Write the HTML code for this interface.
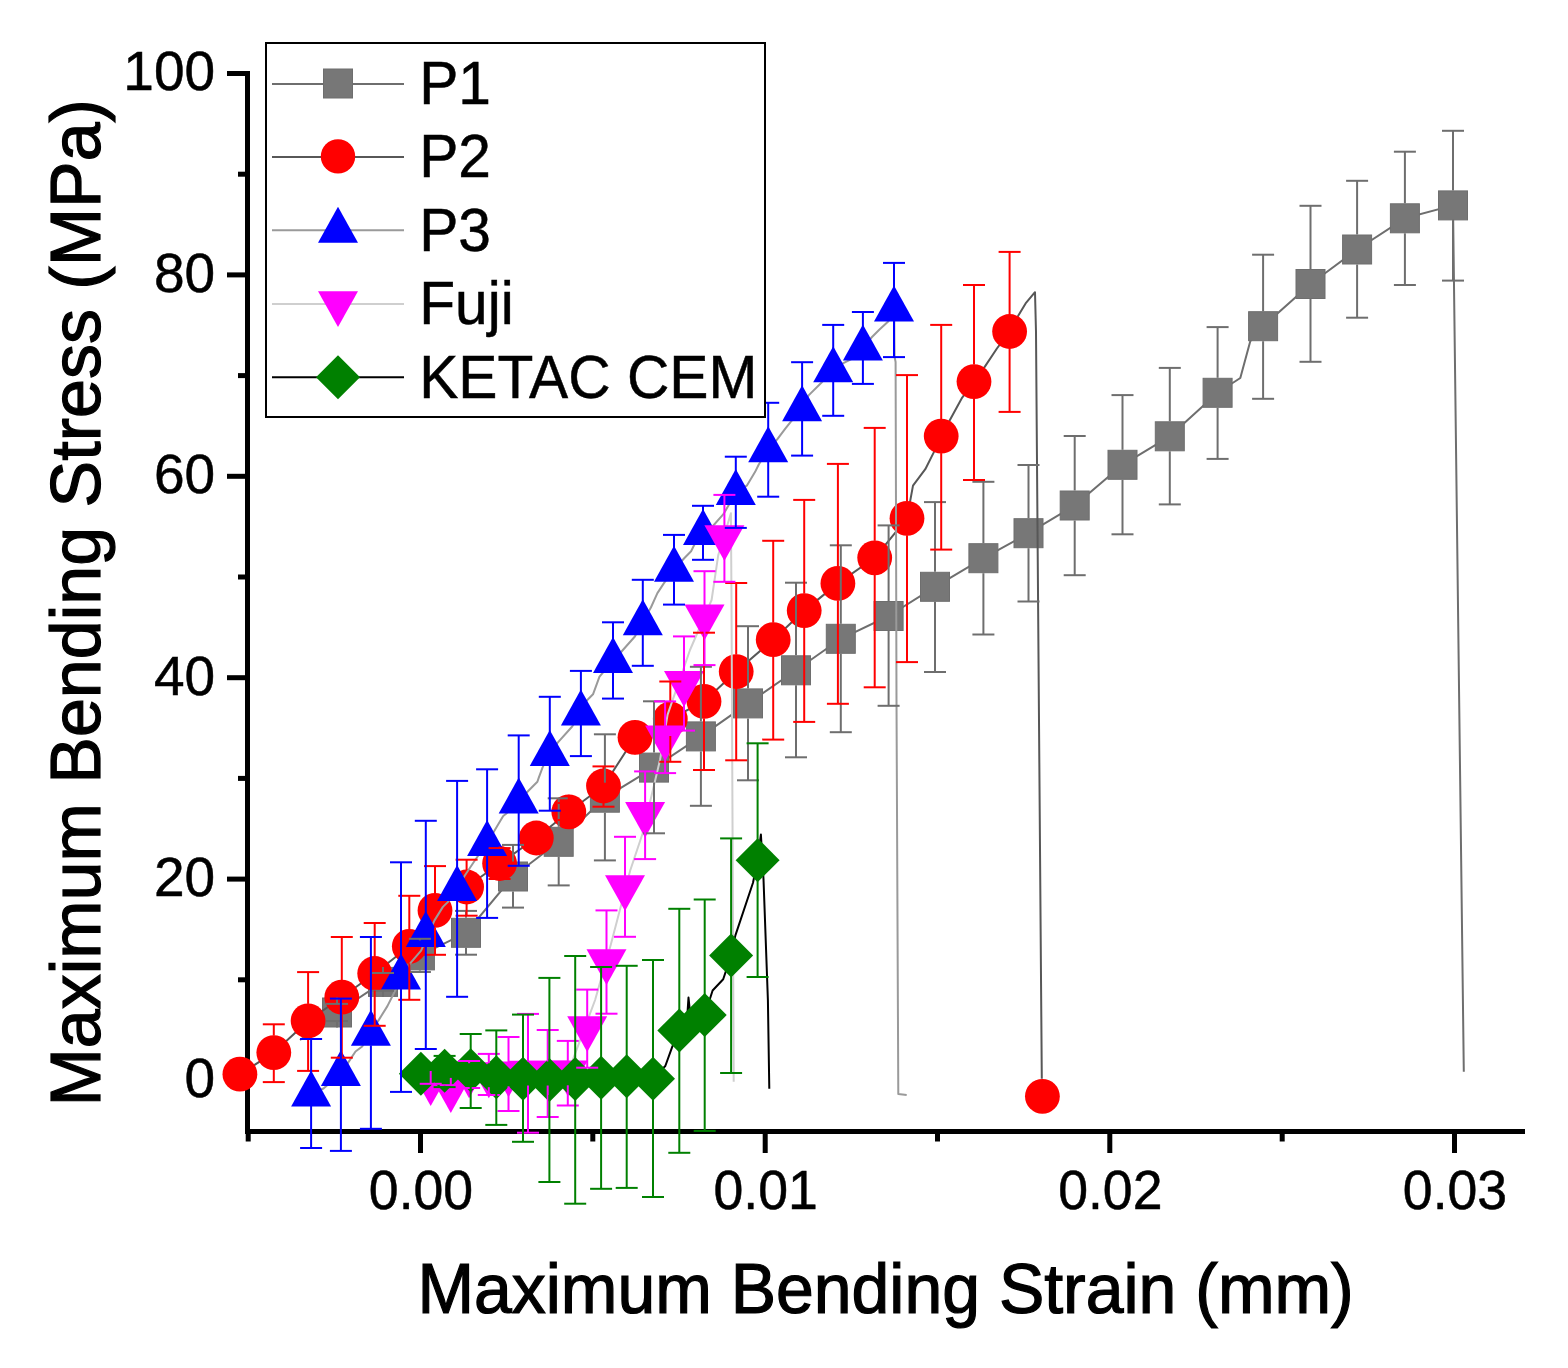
<!DOCTYPE html>
<html><head><meta charset="utf-8"><title>Maximum Bending Stress vs Strain</title>
<style>html,body{margin:0;padding:0;background:#fff;}svg{display:block;}</style>
</head><body>
<svg width="1568" height="1368" viewBox="0 0 1568 1368">
<rect width="1568" height="1368" fill="#ffffff"/>
<g fill="#000000">
<rect x="245" y="71" width="5" height="1063"/>
<rect x="245" y="1129" width="1280" height="5"/>
<rect x="227" y="1078" width="18" height="5"/>
<rect x="227" y="876.6" width="18" height="5"/>
<rect x="227" y="675.2" width="18" height="5"/>
<rect x="227" y="473.8" width="18" height="5"/>
<rect x="227" y="272.4" width="18" height="5"/>
<rect x="227" y="71" width="18" height="5"/>
<rect x="238" y="977.3" width="7" height="5"/>
<rect x="238" y="775.9" width="7" height="5"/>
<rect x="238" y="574.5" width="7" height="5"/>
<rect x="238" y="373.1" width="7" height="5"/>
<rect x="238" y="171.7" width="7" height="5"/>
<rect x="418" y="1134" width="5" height="19"/>
<rect x="762.7" y="1134" width="5" height="19"/>
<rect x="1107.3" y="1134" width="5" height="19"/>
<rect x="1452" y="1134" width="5" height="19"/>
<rect x="245.7" y="1134" width="5" height="7.5"/>
<rect x="590.3" y="1134" width="5" height="7.5"/>
<rect x="935" y="1134" width="5" height="7.5"/>
<rect x="1279.7" y="1134" width="5" height="7.5"/>
</g>
<polyline points="300,1040 337,1012.5 383,981.9 419.9,955.4 466,932.8 513,876.5 558.7,841.8 604.9,797.7 654,767.6 700.9,736.4 748,703.4 796,670.3 840.8,638.8 888.6,616 935,586.8 983.4,558.2 1028.5,533.2 1074.7,505.5 1122.5,464.8 1169.8,436.3 1217.6,392.8 1232.6,383 1240.3,378 1250.2,341.4 1263.1,326.2 1310.5,284 1357.1,249.5 1404.9,218.3 1453,205.4 1463.8,1071.7" fill="none" stroke="#6e6e6e" stroke-width="2" stroke-linejoin="round"/>
<rect x="322.5" y="998" width="29" height="29" fill="#777777" stroke="#6e6e6e" stroke-width="1"/>
<rect x="368.5" y="967.4" width="29" height="29" fill="#777777" stroke="#6e6e6e" stroke-width="1"/>
<rect x="405.4" y="940.9" width="29" height="29" fill="#777777" stroke="#6e6e6e" stroke-width="1"/>
<rect x="451.5" y="918.3" width="29" height="29" fill="#777777" stroke="#6e6e6e" stroke-width="1"/>
<rect x="498.5" y="862" width="29" height="29" fill="#777777" stroke="#6e6e6e" stroke-width="1"/>
<rect x="544.2" y="827.3" width="29" height="29" fill="#777777" stroke="#6e6e6e" stroke-width="1"/>
<rect x="590.4" y="783.2" width="29" height="29" fill="#777777" stroke="#6e6e6e" stroke-width="1"/>
<rect x="639.5" y="753.1" width="29" height="29" fill="#777777" stroke="#6e6e6e" stroke-width="1"/>
<rect x="686.4" y="721.9" width="29" height="29" fill="#777777" stroke="#6e6e6e" stroke-width="1"/>
<rect x="733.5" y="688.9" width="29" height="29" fill="#777777" stroke="#6e6e6e" stroke-width="1"/>
<rect x="781.5" y="655.8" width="29" height="29" fill="#777777" stroke="#6e6e6e" stroke-width="1"/>
<rect x="826.3" y="624.3" width="29" height="29" fill="#777777" stroke="#6e6e6e" stroke-width="1"/>
<rect x="874.1" y="601.5" width="29" height="29" fill="#777777" stroke="#6e6e6e" stroke-width="1"/>
<rect x="920.5" y="572.3" width="29" height="29" fill="#777777" stroke="#6e6e6e" stroke-width="1"/>
<rect x="968.9" y="543.7" width="29" height="29" fill="#777777" stroke="#6e6e6e" stroke-width="1"/>
<rect x="1014" y="518.7" width="29" height="29" fill="#777777" stroke="#6e6e6e" stroke-width="1"/>
<rect x="1060.2" y="491" width="29" height="29" fill="#777777" stroke="#6e6e6e" stroke-width="1"/>
<rect x="1108" y="450.3" width="29" height="29" fill="#777777" stroke="#6e6e6e" stroke-width="1"/>
<rect x="1155.3" y="421.8" width="29" height="29" fill="#777777" stroke="#6e6e6e" stroke-width="1"/>
<rect x="1203.1" y="378.3" width="29" height="29" fill="#777777" stroke="#6e6e6e" stroke-width="1"/>
<rect x="1248.6" y="311.7" width="29" height="29" fill="#777777" stroke="#6e6e6e" stroke-width="1"/>
<rect x="1296" y="269.5" width="29" height="29" fill="#777777" stroke="#6e6e6e" stroke-width="1"/>
<rect x="1342.6" y="235" width="29" height="29" fill="#777777" stroke="#6e6e6e" stroke-width="1"/>
<rect x="1390.4" y="203.8" width="29" height="29" fill="#777777" stroke="#6e6e6e" stroke-width="1"/>
<rect x="1438.5" y="190.9" width="29" height="29" fill="#777777" stroke="#6e6e6e" stroke-width="1"/>
<polyline points="239.9,1074.2 273.8,1052.6 308.1,1020.9 341.8,997.2 374.7,973.5 409.3,946.3 435,910.4 466.6,887 499.6,863.5 536.3,838 568.8,811.8 603.5,786 635,737.3 670.3,719 704,701.4 736.2,671.6 773.2,639.7 804.2,610.6 837.9,583.4 874.7,557.8 907,518.3 913,485.6 925.3,469.2 933.5,452.9 941.2,436.1 949.9,420.1 962.2,397.6 974,381.6 984.7,366.9 996.9,348.5 1009.6,331.5 1018.5,315.3 1025.6,303.4 1035,292.2 1036,332 1037,463 1041.8,1078.7" fill="none" stroke="#575757" stroke-width="2" stroke-linejoin="round"/>
<circle cx="239.9" cy="1074.2" r="17.4" fill="#ff0000"/>
<circle cx="273.8" cy="1052.6" r="17.4" fill="#ff0000"/>
<circle cx="308.1" cy="1020.9" r="17.4" fill="#ff0000"/>
<circle cx="341.8" cy="997.2" r="17.4" fill="#ff0000"/>
<circle cx="374.7" cy="973.5" r="17.4" fill="#ff0000"/>
<circle cx="409.3" cy="946.3" r="17.4" fill="#ff0000"/>
<circle cx="435" cy="910.4" r="17.4" fill="#ff0000"/>
<circle cx="466.6" cy="887" r="17.4" fill="#ff0000"/>
<circle cx="499.6" cy="863.5" r="17.4" fill="#ff0000"/>
<circle cx="536.3" cy="838" r="17.4" fill="#ff0000"/>
<circle cx="568.8" cy="811.8" r="17.4" fill="#ff0000"/>
<circle cx="603.5" cy="786" r="17.4" fill="#ff0000"/>
<circle cx="635" cy="737.3" r="17.4" fill="#ff0000"/>
<circle cx="670.3" cy="719" r="17.4" fill="#ff0000"/>
<circle cx="704" cy="701.4" r="17.4" fill="#ff0000"/>
<circle cx="736.2" cy="671.6" r="17.4" fill="#ff0000"/>
<circle cx="773.2" cy="639.7" r="17.4" fill="#ff0000"/>
<circle cx="804.2" cy="610.6" r="17.4" fill="#ff0000"/>
<circle cx="837.9" cy="583.4" r="17.4" fill="#ff0000"/>
<circle cx="874.7" cy="557.8" r="17.4" fill="#ff0000"/>
<circle cx="907" cy="518.3" r="17.4" fill="#ff0000"/>
<circle cx="941.2" cy="436.1" r="17.4" fill="#ff0000"/>
<circle cx="974" cy="381.6" r="17.4" fill="#ff0000"/>
<circle cx="1009.6" cy="331.5" r="17.4" fill="#ff0000"/>
<circle cx="1042.4" cy="1096.3" r="17.4" fill="#ff0000"/>
<polyline points="311.1,1094 323.5,1088.5 340.9,1073.6 348.8,1061.6 355.5,1051.5 362.2,1046.5 372,1030 379,1019.6 387.4,1006.1 392.5,996 395.8,989.3 401,977 411,962.4 421.1,950.6 428,935 434.5,920.4 442.9,906.9 448,901.9 457,888 465,875.3 475.5,859.5 487,843.5 495.3,829.2 503.2,816 505.8,814 518,802 528.2,791 537.4,781.8 538.7,777.9 542.6,767.4 549.8,753.4 557.7,742.6 572.2,726.5 580,714 586.6,700.8 593,694.3 599.5,676.7 612,662 622,651 634.9,636.5 642,623 650.9,607.5 657.4,593.1 663.8,583.4 674,569.2 684.7,557.7 691.1,551.3 694.3,544.8 703,533 712.9,526 723.4,514.2 735.8,493 747.1,485.3 755,472.1 758.9,464.2 768.2,450 777.4,439.2 785.3,428.7 790.5,422.1 802.1,409 808.6,395.4 821.1,383 832.6,370 843.4,363.1 850.9,359.4 862.7,348 872,337 879.5,329.5 888.2,321.5 894.2,309.3 894.4,340 894.6,357 895.6,362 896.5,700 898.3,1094 906.7,1095.1" fill="none" stroke="#9a9a9a" stroke-width="2" stroke-linejoin="round"/>
<polygon points="311.1,1070.5 291.1,1106.5 331.1,1106.5" fill="#0000ff"/>
<polygon points="340.9,1050.1 320.9,1086.1 360.9,1086.1" fill="#0000ff"/>
<polygon points="370.9,1009.8 350.9,1045.8 390.9,1045.8" fill="#0000ff"/>
<polygon points="401,953.5 381,989.5 421,989.5" fill="#0000ff"/>
<polygon points="425.8,911.1 405.8,947.1 445.8,947.1" fill="#0000ff"/>
<polygon points="457.1,864.9 437.1,900.9 477.1,900.9" fill="#0000ff"/>
<polygon points="487.1,820 467.1,856 507.1,856" fill="#0000ff"/>
<polygon points="518.7,777.5 498.7,813.5 538.7,813.5" fill="#0000ff"/>
<polygon points="549.8,729.9 529.8,765.9 569.8,765.9" fill="#0000ff"/>
<polygon points="580.9,689.5 560.9,725.5 600.9,725.5" fill="#0000ff"/>
<polygon points="613,636.9 593,672.9 633,672.9" fill="#0000ff"/>
<polygon points="642.8,599.2 622.8,635.2 662.8,635.2" fill="#0000ff"/>
<polygon points="674,545.7 654,581.7 694,581.7" fill="#0000ff"/>
<polygon points="703,509 683,545 723,545" fill="#0000ff"/>
<polygon points="735.8,469.1 715.8,505.1 755.8,505.1" fill="#0000ff"/>
<polygon points="768.2,426.2 748.2,462.2 788.2,462.2" fill="#0000ff"/>
<polygon points="802.1,385.3 782.1,421.3 822.1,421.3" fill="#0000ff"/>
<polygon points="833.2,346.3 813.2,382.3 853.2,382.3" fill="#0000ff"/>
<polygon points="862.9,324.5 842.9,360.5 882.9,360.5" fill="#0000ff"/>
<polygon points="894,285.5 874,321.5 914,321.5" fill="#0000ff"/>
<polyline points="430.7,1083 450.8,1089.9 469.1,1075.2 488.8,1075.2 508.5,1074.3 528,1073.5 547.7,1073.5 567.8,1073.3 595.1,1000 610.9,944.2 630.2,870.5 642.5,833.7 660,760 667.6,714.6 690,650 711.6,600 718.2,555.4 730.9,513.3 731.5,600 733.7,1081.8" fill="none" stroke="#cfcfcf" stroke-width="2" stroke-linejoin="round"/>
<polygon points="430.7,1106 410.7,1070.2 450.7,1070.2" fill="#ff00ff"/>
<polygon points="450.8,1112.9 430.8,1077.1 470.8,1077.1" fill="#ff00ff"/>
<polygon points="469.1,1098.2 449.1,1062.4 489.1,1062.4" fill="#ff00ff"/>
<polygon points="488.8,1098.2 468.8,1062.4 508.8,1062.4" fill="#ff00ff"/>
<polygon points="508.5,1097.3 488.5,1061.5 528.5,1061.5" fill="#ff00ff"/>
<polygon points="528,1096.5 508,1060.7 548,1060.7" fill="#ff00ff"/>
<polygon points="547.7,1096.5 527.7,1060.7 567.7,1060.7" fill="#ff00ff"/>
<polygon points="567.8,1096.3 547.8,1060.5 587.8,1060.5" fill="#ff00ff"/>
<polygon points="587.2,1052 567.2,1016.2 607.2,1016.2" fill="#ff00ff"/>
<polygon points="606.5,985 586.5,949.2 626.5,949.2" fill="#ff00ff"/>
<polygon points="625,911 605,875.2 645,875.2" fill="#ff00ff"/>
<polygon points="645.1,837.8 625.1,802 665.1,802" fill="#ff00ff"/>
<polygon points="665.1,761.2 645.1,725.4 685.1,725.4" fill="#ff00ff"/>
<polygon points="684,706.9 664,671.1 704,671.1" fill="#ff00ff"/>
<polygon points="704.5,640.2 684.5,604.4 724.5,604.4" fill="#ff00ff"/>
<polygon points="724.4,561 704.4,525.2 744.4,525.2" fill="#ff00ff"/>
<polyline points="420.9,1073.8 444.6,1070.8 470.7,1070.2 496.3,1077.3 523,1078.7 549.4,1080 575.2,1079.1 601.1,1077.8 626.7,1076.2 653,1078.7 665.3,1066 672.3,1046.7 679.3,1030.6 687.5,1012.5 688.5,997.5 690,1012 704.7,1015.1 712.6,990.5 723.2,979.3 731.1,955.6 735.4,935.4 753,882.8 757.6,860.2 760.9,834.6 763.5,879 767.9,1000 769.3,1088.8" fill="none" stroke="#000000" stroke-width="2" stroke-linejoin="round"/>
<polygon points="420.9,1051.8 442.9,1073.8 420.9,1095.8 398.9,1073.8" fill="#008000"/>
<polygon points="444.6,1048.8 466.6,1070.8 444.6,1092.8 422.6,1070.8" fill="#008000"/>
<polygon points="470.7,1048.2 492.7,1070.2 470.7,1092.2 448.7,1070.2" fill="#008000"/>
<polygon points="496.3,1055.3 518.3,1077.3 496.3,1099.3 474.3,1077.3" fill="#008000"/>
<polygon points="523,1056.7 545,1078.7 523,1100.7 501,1078.7" fill="#008000"/>
<polygon points="549.4,1058 571.4,1080 549.4,1102 527.4,1080" fill="#008000"/>
<polygon points="575.2,1057.1 597.2,1079.1 575.2,1101.1 553.2,1079.1" fill="#008000"/>
<polygon points="601.1,1055.8 623.1,1077.8 601.1,1099.8 579.1,1077.8" fill="#008000"/>
<polygon points="626.7,1054.2 648.7,1076.2 626.7,1098.2 604.7,1076.2" fill="#008000"/>
<polygon points="653,1056.7 675,1078.7 653,1100.7 631,1078.7" fill="#008000"/>
<polygon points="679.3,1008.6 701.3,1030.6 679.3,1052.6 657.3,1030.6" fill="#008000"/>
<polygon points="704.7,993.1 726.7,1015.1 704.7,1037.1 682.7,1015.1" fill="#008000"/>
<polygon points="731.1,933.6 753.1,955.6 731.1,977.6 709.1,955.6" fill="#008000"/>
<polygon points="757.6,838.2 779.6,860.2 757.6,882.2 735.6,860.2" fill="#008000"/>
<g stroke="#6e6e6e" stroke-width="2" fill="none">
<line x1="337" y1="997.5" x2="337" y2="1003.9"/><line x1="326" y1="1003.9" x2="348" y2="1003.9"/><line x1="337" y1="1027.5" x2="337" y2="1021.1"/><line x1="326" y1="1021.1" x2="348" y2="1021.1"/>
<line x1="383" y1="966.9" x2="383" y2="973"/><line x1="372" y1="973" x2="394" y2="973"/><line x1="383" y1="996.9" x2="383" y2="990.8"/><line x1="372" y1="990.8" x2="394" y2="990.8"/>
<line x1="419.9" y1="940.4" x2="419.9" y2="938.8"/><line x1="408.9" y1="938.8" x2="430.9" y2="938.8"/><line x1="419.9" y1="970.4" x2="419.9" y2="972"/><line x1="408.9" y1="972" x2="430.9" y2="972"/>
<line x1="466" y1="917.8" x2="466" y2="910.9"/><line x1="455" y1="910.9" x2="477" y2="910.9"/><line x1="466" y1="947.8" x2="466" y2="954.7"/><line x1="455" y1="954.7" x2="477" y2="954.7"/>
<line x1="513" y1="861.5" x2="513" y2="844.9"/><line x1="502" y1="844.9" x2="524" y2="844.9"/><line x1="513" y1="891.5" x2="513" y2="907.6"/><line x1="502" y1="907.6" x2="524" y2="907.6"/>
<line x1="558.7" y1="826.8" x2="558.7" y2="798.3"/><line x1="547.7" y1="798.3" x2="569.7" y2="798.3"/><line x1="558.7" y1="856.8" x2="558.7" y2="885.4"/><line x1="547.7" y1="885.4" x2="569.7" y2="885.4"/>
<line x1="604.9" y1="782.7" x2="604.9" y2="734.3"/><line x1="593.9" y1="734.3" x2="615.9" y2="734.3"/><line x1="604.9" y1="812.7" x2="604.9" y2="860.4"/><line x1="593.9" y1="860.4" x2="615.9" y2="860.4"/>
<line x1="654" y1="752.6" x2="654" y2="701.3"/><line x1="643" y1="701.3" x2="665" y2="701.3"/><line x1="654" y1="782.6" x2="654" y2="833.3"/><line x1="643" y1="833.3" x2="665" y2="833.3"/>
<line x1="700.9" y1="721.4" x2="700.9" y2="666.8"/><line x1="689.9" y1="666.8" x2="711.9" y2="666.8"/><line x1="700.9" y1="751.4" x2="700.9" y2="805.8"/><line x1="689.9" y1="805.8" x2="711.9" y2="805.8"/>
<line x1="748" y1="688.4" x2="748" y2="626.2"/><line x1="737" y1="626.2" x2="759" y2="626.2"/><line x1="748" y1="718.4" x2="748" y2="780.3"/><line x1="737" y1="780.3" x2="759" y2="780.3"/>
<line x1="796" y1="655.3" x2="796" y2="582.7"/><line x1="785" y1="582.7" x2="807" y2="582.7"/><line x1="796" y1="685.3" x2="796" y2="757.3"/><line x1="785" y1="757.3" x2="807" y2="757.3"/>
<line x1="840.8" y1="623.8" x2="840.8" y2="545.3"/><line x1="829.8" y1="545.3" x2="851.8" y2="545.3"/><line x1="840.8" y1="653.8" x2="840.8" y2="732.2"/><line x1="829.8" y1="732.2" x2="851.8" y2="732.2"/>
<line x1="888.6" y1="601" x2="888.6" y2="525.4"/><line x1="877.6" y1="525.4" x2="899.6" y2="525.4"/><line x1="888.6" y1="631" x2="888.6" y2="705.8"/><line x1="877.6" y1="705.8" x2="899.6" y2="705.8"/>
<line x1="935" y1="571.8" x2="935" y2="502.1"/><line x1="924" y1="502.1" x2="946" y2="502.1"/><line x1="935" y1="601.8" x2="935" y2="672"/><line x1="924" y1="672" x2="946" y2="672"/>
<line x1="983.4" y1="543.2" x2="983.4" y2="481.8"/><line x1="972.4" y1="481.8" x2="994.4" y2="481.8"/><line x1="983.4" y1="573.2" x2="983.4" y2="634.5"/><line x1="972.4" y1="634.5" x2="994.4" y2="634.5"/>
<line x1="1028.5" y1="518.2" x2="1028.5" y2="465"/><line x1="1017.5" y1="465" x2="1039.5" y2="465"/><line x1="1028.5" y1="548.2" x2="1028.5" y2="601.5"/><line x1="1017.5" y1="601.5" x2="1039.5" y2="601.5"/>
<line x1="1074.7" y1="490.5" x2="1074.7" y2="436"/><line x1="1063.7" y1="436" x2="1085.7" y2="436"/><line x1="1074.7" y1="520.5" x2="1074.7" y2="575.2"/><line x1="1063.7" y1="575.2" x2="1085.7" y2="575.2"/>
<line x1="1122.5" y1="449.8" x2="1122.5" y2="395.1"/><line x1="1111.5" y1="395.1" x2="1133.5" y2="395.1"/><line x1="1122.5" y1="479.8" x2="1122.5" y2="534.3"/><line x1="1111.5" y1="534.3" x2="1133.5" y2="534.3"/>
<line x1="1169.8" y1="421.3" x2="1169.8" y2="367.9"/><line x1="1158.8" y1="367.9" x2="1180.8" y2="367.9"/><line x1="1169.8" y1="451.3" x2="1169.8" y2="504.4"/><line x1="1158.8" y1="504.4" x2="1180.8" y2="504.4"/>
<line x1="1217.6" y1="377.8" x2="1217.6" y2="327.1"/><line x1="1206.6" y1="327.1" x2="1228.6" y2="327.1"/><line x1="1217.6" y1="407.8" x2="1217.6" y2="458.9"/><line x1="1206.6" y1="458.9" x2="1228.6" y2="458.9"/>
<line x1="1263.1" y1="311.2" x2="1263.1" y2="254.7"/><line x1="1252.1" y1="254.7" x2="1274.1" y2="254.7"/><line x1="1263.1" y1="341.2" x2="1263.1" y2="398.8"/><line x1="1252.1" y1="398.8" x2="1274.1" y2="398.8"/>
<line x1="1310.5" y1="269" x2="1310.5" y2="205.8"/><line x1="1299.5" y1="205.8" x2="1321.5" y2="205.8"/><line x1="1310.5" y1="299" x2="1310.5" y2="361.8"/><line x1="1299.5" y1="361.8" x2="1321.5" y2="361.8"/>
<line x1="1357.1" y1="234.5" x2="1357.1" y2="180.8"/><line x1="1346.1" y1="180.8" x2="1368.1" y2="180.8"/><line x1="1357.1" y1="264.5" x2="1357.1" y2="317.7"/><line x1="1346.1" y1="317.7" x2="1368.1" y2="317.7"/>
<line x1="1404.9" y1="203.3" x2="1404.9" y2="151.7"/><line x1="1393.9" y1="151.7" x2="1415.9" y2="151.7"/><line x1="1404.9" y1="233.3" x2="1404.9" y2="285"/><line x1="1393.9" y1="285" x2="1415.9" y2="285"/>
<line x1="1453" y1="190.4" x2="1453" y2="130.8"/><line x1="1442" y1="130.8" x2="1464" y2="130.8"/><line x1="1453" y1="220.4" x2="1453" y2="280.6"/><line x1="1442" y1="280.6" x2="1464" y2="280.6"/>
</g>
<g stroke="#ff0000" stroke-width="2" fill="none">

<line x1="273.8" y1="1035.6" x2="273.8" y2="1024.3"/><line x1="262.8" y1="1024.3" x2="284.8" y2="1024.3"/><line x1="273.8" y1="1069.6" x2="273.8" y2="1082.1"/><line x1="262.8" y1="1082.1" x2="284.8" y2="1082.1"/>
<line x1="308.1" y1="1003.9" x2="308.1" y2="972.1"/><line x1="297.1" y1="972.1" x2="319.1" y2="972.1"/><line x1="308.1" y1="1037.9" x2="308.1" y2="1070.9"/><line x1="297.1" y1="1070.9" x2="319.1" y2="1070.9"/>
<line x1="341.8" y1="980.2" x2="341.8" y2="937"/><line x1="330.8" y1="937" x2="352.8" y2="937"/><line x1="341.8" y1="1014.2" x2="341.8" y2="1057.7"/><line x1="330.8" y1="1057.7" x2="352.8" y2="1057.7"/>
<line x1="374.7" y1="956.5" x2="374.7" y2="923"/><line x1="363.7" y1="923" x2="385.7" y2="923"/><line x1="374.7" y1="990.5" x2="374.7" y2="1025.8"/><line x1="363.7" y1="1025.8" x2="385.7" y2="1025.8"/>
<line x1="409.3" y1="929.3" x2="409.3" y2="895.8"/><line x1="398.3" y1="895.8" x2="420.3" y2="895.8"/><line x1="409.3" y1="963.3" x2="409.3" y2="999.8"/><line x1="398.3" y1="999.8" x2="420.3" y2="999.8"/>
<line x1="435" y1="893.4" x2="435" y2="866.1"/><line x1="424" y1="866.1" x2="446" y2="866.1"/><line x1="435" y1="927.4" x2="435" y2="954.8"/><line x1="424" y1="954.8" x2="446" y2="954.8"/>
<line x1="466.6" y1="870" x2="466.6" y2="859.7"/><line x1="455.6" y1="859.7" x2="477.6" y2="859.7"/><line x1="466.6" y1="904" x2="466.6" y2="915.7"/><line x1="455.6" y1="915.7" x2="477.6" y2="915.7"/>
<line x1="499.6" y1="846.5" x2="499.6" y2="848.1"/><line x1="488.6" y1="848.1" x2="510.6" y2="848.1"/><line x1="499.6" y1="880.5" x2="499.6" y2="879"/><line x1="488.6" y1="879" x2="510.6" y2="879"/>
<line x1="536.3" y1="821" x2="536.3" y2="830"/><line x1="525.3" y1="830" x2="547.3" y2="830"/><line x1="536.3" y1="855" x2="536.3" y2="846"/><line x1="525.3" y1="846" x2="547.3" y2="846"/>
<line x1="568.8" y1="794.8" x2="568.8" y2="803"/><line x1="557.8" y1="803" x2="579.8" y2="803"/><line x1="568.8" y1="828.8" x2="568.8" y2="820"/><line x1="557.8" y1="820" x2="579.8" y2="820"/>
<line x1="603.5" y1="769" x2="603.5" y2="766.4"/><line x1="592.5" y1="766.4" x2="614.5" y2="766.4"/><line x1="603.5" y1="803" x2="603.5" y2="806.7"/><line x1="592.5" y1="806.7" x2="614.5" y2="806.7"/>
<line x1="635" y1="720.3" x2="635" y2="728"/><line x1="624" y1="728" x2="646" y2="728"/><line x1="635" y1="754.3" x2="635" y2="746"/><line x1="624" y1="746" x2="646" y2="746"/>
<line x1="670.3" y1="702" x2="670.3" y2="681.5"/><line x1="659.3" y1="681.5" x2="681.3" y2="681.5"/><line x1="670.3" y1="736" x2="670.3" y2="761.8"/><line x1="659.3" y1="761.8" x2="681.3" y2="761.8"/>
<line x1="704" y1="684.4" x2="704" y2="632.7"/><line x1="693" y1="632.7" x2="715" y2="632.7"/><line x1="704" y1="718.4" x2="704" y2="770"/><line x1="693" y1="770" x2="715" y2="770"/>
<line x1="736.2" y1="654.6" x2="736.2" y2="583"/><line x1="725.2" y1="583" x2="747.2" y2="583"/><line x1="736.2" y1="688.6" x2="736.2" y2="760.3"/><line x1="725.2" y1="760.3" x2="747.2" y2="760.3"/>
<line x1="773.2" y1="622.7" x2="773.2" y2="540.8"/><line x1="762.2" y1="540.8" x2="784.2" y2="540.8"/><line x1="773.2" y1="656.7" x2="773.2" y2="739.6"/><line x1="762.2" y1="739.6" x2="784.2" y2="739.6"/>
<line x1="804.2" y1="593.6" x2="804.2" y2="499.9"/><line x1="793.2" y1="499.9" x2="815.2" y2="499.9"/><line x1="804.2" y1="627.6" x2="804.2" y2="721.9"/><line x1="793.2" y1="721.9" x2="815.2" y2="721.9"/>
<line x1="837.9" y1="566.4" x2="837.9" y2="463.9"/><line x1="826.9" y1="463.9" x2="848.9" y2="463.9"/><line x1="837.9" y1="600.4" x2="837.9" y2="703.8"/><line x1="826.9" y1="703.8" x2="848.9" y2="703.8"/>
<line x1="874.7" y1="540.8" x2="874.7" y2="427.9"/><line x1="863.7" y1="427.9" x2="885.7" y2="427.9"/><line x1="874.7" y1="574.8" x2="874.7" y2="687.3"/><line x1="863.7" y1="687.3" x2="885.7" y2="687.3"/>
<line x1="907" y1="501.3" x2="907" y2="375.1"/><line x1="896" y1="375.1" x2="918" y2="375.1"/><line x1="907" y1="535.3" x2="907" y2="662.1"/><line x1="896" y1="662.1" x2="918" y2="662.1"/>
<line x1="941.2" y1="419.1" x2="941.2" y2="324.9"/><line x1="930.2" y1="324.9" x2="952.2" y2="324.9"/><line x1="941.2" y1="453.1" x2="941.2" y2="549.6"/><line x1="930.2" y1="549.6" x2="952.2" y2="549.6"/>
<line x1="974" y1="364.6" x2="974" y2="285"/><line x1="963" y1="285" x2="985" y2="285"/><line x1="974" y1="398.6" x2="974" y2="480"/><line x1="963" y1="480" x2="985" y2="480"/>
<line x1="1009.6" y1="314.5" x2="1009.6" y2="251.9"/><line x1="998.6" y1="251.9" x2="1020.6" y2="251.9"/><line x1="1009.6" y1="348.5" x2="1009.6" y2="411.9"/><line x1="998.6" y1="411.9" x2="1020.6" y2="411.9"/>
</g>
<g stroke="#0000ff" stroke-width="2" fill="none">
<line x1="311.1" y1="1082" x2="311.1" y2="1039"/><line x1="300.1" y1="1039" x2="322.1" y2="1039"/><line x1="311.1" y1="1106" x2="311.1" y2="1148"/><line x1="300.1" y1="1148" x2="322.1" y2="1148"/>
<line x1="340.9" y1="1061.6" x2="340.9" y2="998.6"/><line x1="329.9" y1="998.6" x2="351.9" y2="998.6"/><line x1="340.9" y1="1085.6" x2="340.9" y2="1150.9"/><line x1="329.9" y1="1150.9" x2="351.9" y2="1150.9"/>
<line x1="370.9" y1="1021.3" x2="370.9" y2="937"/><line x1="359.9" y1="937" x2="381.9" y2="937"/><line x1="370.9" y1="1045.3" x2="370.9" y2="1128.8"/><line x1="359.9" y1="1128.8" x2="381.9" y2="1128.8"/>
<line x1="401" y1="965" x2="401" y2="862.3"/><line x1="390" y1="862.3" x2="412" y2="862.3"/><line x1="401" y1="989" x2="401" y2="1091.9"/><line x1="390" y1="1091.9" x2="412" y2="1091.9"/>
<line x1="425.8" y1="922.6" x2="425.8" y2="820.8"/><line x1="414.8" y1="820.8" x2="436.8" y2="820.8"/><line x1="425.8" y1="946.6" x2="425.8" y2="1049"/><line x1="414.8" y1="1049" x2="436.8" y2="1049"/>
<line x1="457.1" y1="876.4" x2="457.1" y2="780.9"/><line x1="446.1" y1="780.9" x2="468.1" y2="780.9"/><line x1="457.1" y1="900.4" x2="457.1" y2="996.8"/><line x1="446.1" y1="996.8" x2="468.1" y2="996.8"/>
<line x1="487.1" y1="831.5" x2="487.1" y2="769.3"/><line x1="476.1" y1="769.3" x2="498.1" y2="769.3"/><line x1="487.1" y1="855.5" x2="487.1" y2="917.9"/><line x1="476.1" y1="917.9" x2="498.1" y2="917.9"/>
<line x1="518.7" y1="789" x2="518.7" y2="735.4"/><line x1="507.7" y1="735.4" x2="529.7" y2="735.4"/><line x1="518.7" y1="813" x2="518.7" y2="865.8"/><line x1="507.7" y1="865.8" x2="529.7" y2="865.8"/>
<line x1="549.8" y1="741.4" x2="549.8" y2="696.8"/><line x1="538.8" y1="696.8" x2="560.8" y2="696.8"/><line x1="549.8" y1="765.4" x2="549.8" y2="810.7"/><line x1="538.8" y1="810.7" x2="560.8" y2="810.7"/>
<line x1="580.9" y1="701" x2="580.9" y2="670.9"/><line x1="569.9" y1="670.9" x2="591.9" y2="670.9"/><line x1="580.9" y1="725" x2="580.9" y2="756.1"/><line x1="569.9" y1="756.1" x2="591.9" y2="756.1"/>
<line x1="613" y1="648.4" x2="613" y2="622.3"/><line x1="602" y1="622.3" x2="624" y2="622.3"/><line x1="613" y1="672.4" x2="613" y2="698.6"/><line x1="602" y1="698.6" x2="624" y2="698.6"/>
<line x1="642.8" y1="610.7" x2="642.8" y2="579.8"/><line x1="631.8" y1="579.8" x2="653.8" y2="579.8"/><line x1="642.8" y1="634.7" x2="642.8" y2="665.8"/><line x1="631.8" y1="665.8" x2="653.8" y2="665.8"/>
<line x1="674" y1="557.2" x2="674" y2="534.9"/><line x1="663" y1="534.9" x2="685" y2="534.9"/><line x1="674" y1="581.2" x2="674" y2="604.6"/><line x1="663" y1="604.6" x2="685" y2="604.6"/>
<line x1="703" y1="520.5" x2="703" y2="505.8"/><line x1="692" y1="505.8" x2="714" y2="505.8"/><line x1="703" y1="544.5" x2="703" y2="559.8"/><line x1="692" y1="559.8" x2="714" y2="559.8"/>
<line x1="735.8" y1="480.6" x2="735.8" y2="456.7"/><line x1="724.8" y1="456.7" x2="746.8" y2="456.7"/><line x1="735.8" y1="504.6" x2="735.8" y2="527.9"/><line x1="724.8" y1="527.9" x2="746.8" y2="527.9"/>
<line x1="768.2" y1="437.7" x2="768.2" y2="402.8"/><line x1="757.2" y1="402.8" x2="779.2" y2="402.8"/><line x1="768.2" y1="461.7" x2="768.2" y2="496.7"/><line x1="757.2" y1="496.7" x2="779.2" y2="496.7"/>
<line x1="802.1" y1="396.8" x2="802.1" y2="362.2"/><line x1="791.1" y1="362.2" x2="813.1" y2="362.2"/><line x1="802.1" y1="420.8" x2="802.1" y2="455.6"/><line x1="791.1" y1="455.6" x2="813.1" y2="455.6"/>
<line x1="833.2" y1="357.8" x2="833.2" y2="324.9"/><line x1="822.2" y1="324.9" x2="844.2" y2="324.9"/><line x1="833.2" y1="381.8" x2="833.2" y2="415.8"/><line x1="822.2" y1="415.8" x2="844.2" y2="415.8"/>
<line x1="862.9" y1="336" x2="862.9" y2="312"/><line x1="851.9" y1="312" x2="873.9" y2="312"/><line x1="862.9" y1="360" x2="862.9" y2="383.9"/><line x1="851.9" y1="383.9" x2="873.9" y2="383.9"/>
<line x1="894" y1="297" x2="894" y2="262.9"/><line x1="883" y1="262.9" x2="905" y2="262.9"/><line x1="894" y1="321" x2="894" y2="357.1"/><line x1="883" y1="357.1" x2="905" y2="357.1"/>
</g>
<g stroke="#ff00ff" stroke-width="2" fill="none">
<line x1="430.7" y1="1071" x2="430.7" y2="1083.8"/><line x1="419.7" y1="1083.8" x2="441.7" y2="1083.8"/>
<line x1="450.8" y1="1077.9" x2="450.8" y2="1085.2"/><line x1="439.8" y1="1085.2" x2="461.8" y2="1085.2"/>
<line x1="469.1" y1="1063.2" x2="469.1" y2="1061"/><line x1="458.1" y1="1061" x2="480.1" y2="1061"/><line x1="469.1" y1="1087.2" x2="469.1" y2="1088"/><line x1="458.1" y1="1088" x2="480.1" y2="1088"/>
<line x1="488.8" y1="1063.2" x2="488.8" y2="1053.9"/><line x1="477.8" y1="1053.9" x2="499.8" y2="1053.9"/><line x1="488.8" y1="1087.2" x2="488.8" y2="1095"/><line x1="477.8" y1="1095" x2="499.8" y2="1095"/>
<line x1="508.5" y1="1062.3" x2="508.5" y2="1037"/><line x1="497.5" y1="1037" x2="519.5" y2="1037"/><line x1="508.5" y1="1086.3" x2="508.5" y2="1111"/><line x1="497.5" y1="1111" x2="519.5" y2="1111"/>
<line x1="528" y1="1061.5" x2="528" y2="1013.9"/><line x1="517" y1="1013.9" x2="539" y2="1013.9"/><line x1="528" y1="1085.5" x2="528" y2="1132.7"/><line x1="517" y1="1132.7" x2="539" y2="1132.7"/>
<line x1="547.7" y1="1061.5" x2="547.7" y2="1030"/><line x1="536.7" y1="1030" x2="558.7" y2="1030"/><line x1="547.7" y1="1085.5" x2="547.7" y2="1117"/><line x1="536.7" y1="1117" x2="558.7" y2="1117"/>
<line x1="567.8" y1="1061.3" x2="567.8" y2="1040.9"/><line x1="556.8" y1="1040.9" x2="578.8" y2="1040.9"/><line x1="567.8" y1="1085.3" x2="567.8" y2="1105.5"/><line x1="556.8" y1="1105.5" x2="578.8" y2="1105.5"/>
<line x1="587.2" y1="1017" x2="587.2" y2="989.6"/><line x1="576.2" y1="989.6" x2="598.2" y2="989.6"/><line x1="587.2" y1="1041" x2="587.2" y2="1067.7"/><line x1="576.2" y1="1067.7" x2="598.2" y2="1067.7"/>
<line x1="606.5" y1="950" x2="606.5" y2="910.4"/><line x1="595.5" y1="910.4" x2="617.5" y2="910.4"/><line x1="606.5" y1="974" x2="606.5" y2="1013.7"/><line x1="595.5" y1="1013.7" x2="617.5" y2="1013.7"/>
<line x1="625" y1="876" x2="625" y2="836.8"/><line x1="614" y1="836.8" x2="636" y2="836.8"/><line x1="625" y1="900" x2="625" y2="936.8"/><line x1="614" y1="936.8" x2="636" y2="936.8"/>
<line x1="645.1" y1="802.8" x2="645.1" y2="771.4"/><line x1="634.1" y1="771.4" x2="656.1" y2="771.4"/><line x1="645.1" y1="826.8" x2="645.1" y2="859.1"/><line x1="634.1" y1="859.1" x2="656.1" y2="859.1"/>
<line x1="665.1" y1="726.2" x2="665.1" y2="701.4"/><line x1="654.1" y1="701.4" x2="676.1" y2="701.4"/><line x1="665.1" y1="750.2" x2="665.1" y2="773.1"/><line x1="654.1" y1="773.1" x2="676.1" y2="773.1"/>
<line x1="684" y1="671.9" x2="684" y2="636.4"/><line x1="673" y1="636.4" x2="695" y2="636.4"/><line x1="684" y1="695.9" x2="684" y2="730.6"/><line x1="673" y1="730.6" x2="695" y2="730.6"/>
<line x1="704.5" y1="605.2" x2="704.5" y2="571.2"/><line x1="693.5" y1="571.2" x2="715.5" y2="571.2"/><line x1="704.5" y1="629.2" x2="704.5" y2="665.1"/><line x1="693.5" y1="665.1" x2="715.5" y2="665.1"/>
<line x1="724.4" y1="526" x2="724.4" y2="494.9"/><line x1="713.4" y1="494.9" x2="735.4" y2="494.9"/><line x1="724.4" y1="550" x2="724.4" y2="581.8"/><line x1="713.4" y1="581.8" x2="735.4" y2="581.8"/>
</g>
<g stroke="#008000" stroke-width="2" fill="none">

<line x1="444.6" y1="1055.8" x2="444.6" y2="1055.9"/><line x1="433.6" y1="1055.9" x2="455.6" y2="1055.9"/><line x1="444.6" y1="1085.8" x2="444.6" y2="1087.1"/><line x1="433.6" y1="1087.1" x2="455.6" y2="1087.1"/>
<line x1="470.7" y1="1055.2" x2="470.7" y2="1034"/><line x1="459.7" y1="1034" x2="481.7" y2="1034"/><line x1="470.7" y1="1085.2" x2="470.7" y2="1108"/><line x1="459.7" y1="1108" x2="481.7" y2="1108"/>
<line x1="496.3" y1="1062.3" x2="496.3" y2="1030.4"/><line x1="485.3" y1="1030.4" x2="507.3" y2="1030.4"/><line x1="496.3" y1="1092.3" x2="496.3" y2="1124.9"/><line x1="485.3" y1="1124.9" x2="507.3" y2="1124.9"/>
<line x1="523" y1="1063.7" x2="523" y2="1014.6"/><line x1="512" y1="1014.6" x2="534" y2="1014.6"/><line x1="523" y1="1093.7" x2="523" y2="1141.8"/><line x1="512" y1="1141.8" x2="534" y2="1141.8"/>
<line x1="549.4" y1="1065" x2="549.4" y2="977.9"/><line x1="538.4" y1="977.9" x2="560.4" y2="977.9"/><line x1="549.4" y1="1095" x2="549.4" y2="1182"/><line x1="538.4" y1="1182" x2="560.4" y2="1182"/>
<line x1="575.2" y1="1064.1" x2="575.2" y2="956"/><line x1="564.2" y1="956" x2="586.2" y2="956"/><line x1="575.2" y1="1094.1" x2="575.2" y2="1203.7"/><line x1="564.2" y1="1203.7" x2="586.2" y2="1203.7"/>
<line x1="601.1" y1="1062.8" x2="601.1" y2="967"/><line x1="590.1" y1="967" x2="612.1" y2="967"/><line x1="601.1" y1="1092.8" x2="601.1" y2="1188.8"/><line x1="590.1" y1="1188.8" x2="612.1" y2="1188.8"/>
<line x1="626.7" y1="1061.2" x2="626.7" y2="965.8"/><line x1="615.7" y1="965.8" x2="637.7" y2="965.8"/><line x1="626.7" y1="1091.2" x2="626.7" y2="1187.9"/><line x1="615.7" y1="1187.9" x2="637.7" y2="1187.9"/>
<line x1="653" y1="1063.7" x2="653" y2="960"/><line x1="642" y1="960" x2="664" y2="960"/><line x1="653" y1="1093.7" x2="653" y2="1197"/><line x1="642" y1="1197" x2="664" y2="1197"/>
<line x1="679.3" y1="1015.6" x2="679.3" y2="908.8"/><line x1="668.3" y1="908.8" x2="690.3" y2="908.8"/><line x1="679.3" y1="1045.6" x2="679.3" y2="1152.8"/><line x1="668.3" y1="1152.8" x2="690.3" y2="1152.8"/>
<line x1="704.7" y1="1000.1" x2="704.7" y2="899.5"/><line x1="693.7" y1="899.5" x2="715.7" y2="899.5"/><line x1="704.7" y1="1030.1" x2="704.7" y2="1130.9"/><line x1="693.7" y1="1130.9" x2="715.7" y2="1130.9"/>
<line x1="731.1" y1="940.6" x2="731.1" y2="838.4"/><line x1="720.1" y1="838.4" x2="742.1" y2="838.4"/><line x1="731.1" y1="970.6" x2="731.1" y2="1073"/><line x1="720.1" y1="1073" x2="742.1" y2="1073"/>
<line x1="757.6" y1="845.2" x2="757.6" y2="743.3"/><line x1="746.6" y1="743.3" x2="768.6" y2="743.3"/><line x1="757.6" y1="875.2" x2="757.6" y2="977"/><line x1="746.6" y1="977" x2="768.6" y2="977"/>
</g>
<g font-family="Liberation Sans, Arial, sans-serif" font-size="55" fill="#000" stroke="#000" stroke-width="0.5">
<text x="215.1" y="1097.3" text-anchor="end">0</text>
<text x="215.1" y="896" text-anchor="end">20</text>
<text x="215.1" y="694.6" text-anchor="end">40</text>
<text x="215.1" y="493.1" text-anchor="end">60</text>
<text x="215.1" y="291.8" text-anchor="end">80</text>
<text x="215.1" y="90.3" text-anchor="end">100</text>
</g>
<text transform="translate(421,1209.35) scale(0.975,1)" text-anchor="middle" font-family="Liberation Sans, Arial, sans-serif" font-size="55" fill="#000" stroke="#000" stroke-width="0.5">0.00</text>
<text transform="translate(765.7,1209.35) scale(0.975,1)" text-anchor="middle" font-family="Liberation Sans, Arial, sans-serif" font-size="55" fill="#000" stroke="#000" stroke-width="0.5">0.01</text>
<text transform="translate(1110.3,1209.35) scale(0.975,1)" text-anchor="middle" font-family="Liberation Sans, Arial, sans-serif" font-size="55" fill="#000" stroke="#000" stroke-width="0.5">0.02</text>
<text transform="translate(1455,1209.35) scale(0.975,1)" text-anchor="middle" font-family="Liberation Sans, Arial, sans-serif" font-size="55" fill="#000" stroke="#000" stroke-width="0.5">0.03</text>
<text transform="translate(417.4,1312.9) scale(0.9708,1)" font-family="Liberation Sans, Arial, sans-serif" font-size="70" fill="#000" stroke="#000" stroke-width="1.2">Maximum Bending Strain (mm)</text>
<text transform="translate(100.2,1106.6) rotate(-90)" font-family="Liberation Sans, Arial, sans-serif" font-size="70" fill="#000" stroke="#000" stroke-width="1.2">Maximum Bending Stress (MPa)</text>
<rect x="266" y="43" width="499" height="374" fill="#ffffff" stroke="#000" stroke-width="2"/>
<line x1="272" y1="84" x2="404" y2="84" stroke="#6e6e6e" stroke-width="2"/>
<rect x="323.5" y="69" width="29" height="29" fill="#777777" stroke="#6e6e6e" stroke-width="1"/>
<text transform="translate(419.2,104.3) scale(0.955,1)" font-family="Liberation Sans, Arial, sans-serif" font-size="61.5" fill="#000" stroke="#000" stroke-width="0.5">P1</text>
<line x1="272" y1="157" x2="404" y2="157" stroke="#575757" stroke-width="2"/>
<circle cx="338" cy="156.4" r="17.2" fill="#ff0000"/>
<text transform="translate(419.2,177.3) scale(0.955,1)" font-family="Liberation Sans, Arial, sans-serif" font-size="61.5" fill="#000" stroke="#000" stroke-width="0.5">P2</text>
<line x1="272" y1="230.2" x2="404" y2="230.2" stroke="#9a9a9a" stroke-width="2"/>
<polygon points="338,206.7 318,242.7 358,242.7" fill="#0000ff"/>
<text transform="translate(419.2,250.5) scale(0.955,1)" font-family="Liberation Sans, Arial, sans-serif" font-size="61.5" fill="#000" stroke="#000" stroke-width="0.5">P3</text>
<line x1="272" y1="304" x2="404" y2="304" stroke="#cfcfcf" stroke-width="2"/>
<polygon points="338,327 318,291.2 358,291.2" fill="#ff00ff"/>
<text transform="translate(419.2,324.3) scale(0.955,1)" font-family="Liberation Sans, Arial, sans-serif" font-size="61.5" fill="#000" stroke="#000" stroke-width="0.5">Fuji</text>
<line x1="272" y1="377.2" x2="404" y2="377.2" stroke="#000000" stroke-width="2"/>
<polygon points="338,355.2 360,377.2 338,399.2 316,377.2" fill="#008000"/>
<text transform="translate(419.2,397.5) scale(0.955,1)" font-family="Liberation Sans, Arial, sans-serif" font-size="61.5" fill="#000" stroke="#000" stroke-width="0.5">KETAC CEM</text>
</svg>
</body></html>
